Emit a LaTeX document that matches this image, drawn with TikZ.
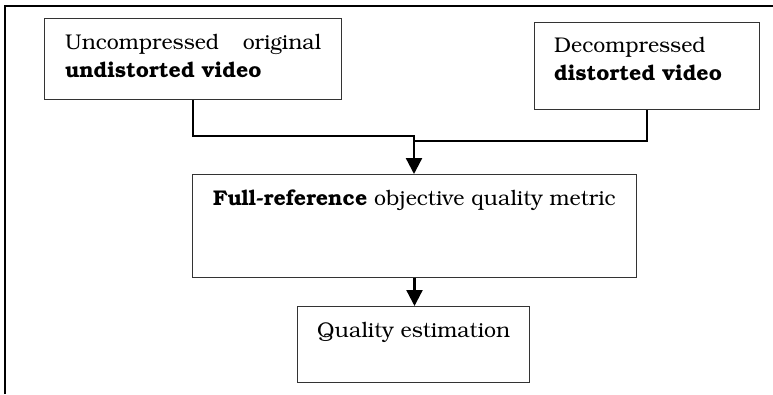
\documentclass[tikz,border=0pt]{standalone}
\usepackage[T1]{fontenc}
\usepackage{bookman}
\usetikzlibrary{arrows.meta}

\tikzset{
  box/.style={draw=black!80, line width=1pt, anchor=north west, inner sep=0pt},
  label/.style={anchor=base west, inner sep=0pt, font=\fontsize{21.3}{25}\selectfont},
  link/.style={line width=2.3pt, line join=miter},
  flow/.style={link, -{Triangle[length=16pt, width=16pt]}},
  frame/.style={line width=2pt}
}

\begin{document}
\begin{tikzpicture}[x=1pt, y=-1pt]
  \useasboundingbox (0,0) rectangle (773,394);

  % open page frame: top and left edges only
  \draw[frame] (5,394) -- (5,6) -- (773,6);

  % boxes
  \node[box, minimum width=297pt, minimum height=81pt] (orig) at (44,18) {};
  \node[box, minimum width=225pt, minimum height=87pt] (dist) at (534,22) {};
  \node[box, minimum width=444pt, minimum height=103pt] (metric) at (192,174) {};
  \node[box, minimum width=232pt, minimum height=76pt] (est) at (297,306) {};

  % box texts
  \node[label] (origA) at (65,49) {\makebox[256pt][s]{Uncompressed \hfill original}};
  \node[label] (origB) at (65,77) {\textbf{undistorted video}};
  \node[label] (distA) at (554,52) {Decompressed};
  \node[label] (distB) at (554,80) {\textbf{distorted video}};
  \node[label] (metricT) at (213,205) {\textbf{Full-reference} objective quality metric};
  \node[label] (estT) at (317,337) {Quality estimation};

  % junction points of the two inputs
  \coordinate (j1) at (414,136);
  \coordinate (j2) at (414,141);

  % connectors
  \draw[link] (orig.south) |- (j1) -- (j2);
  \draw[link] (dist.south) |- (j2);
  \draw[flow] (j2) -- (metric.north -| j2);
  \draw[flow] (metric.south) -- (est.north -| metric.south);
\end{tikzpicture}
\end{document}
